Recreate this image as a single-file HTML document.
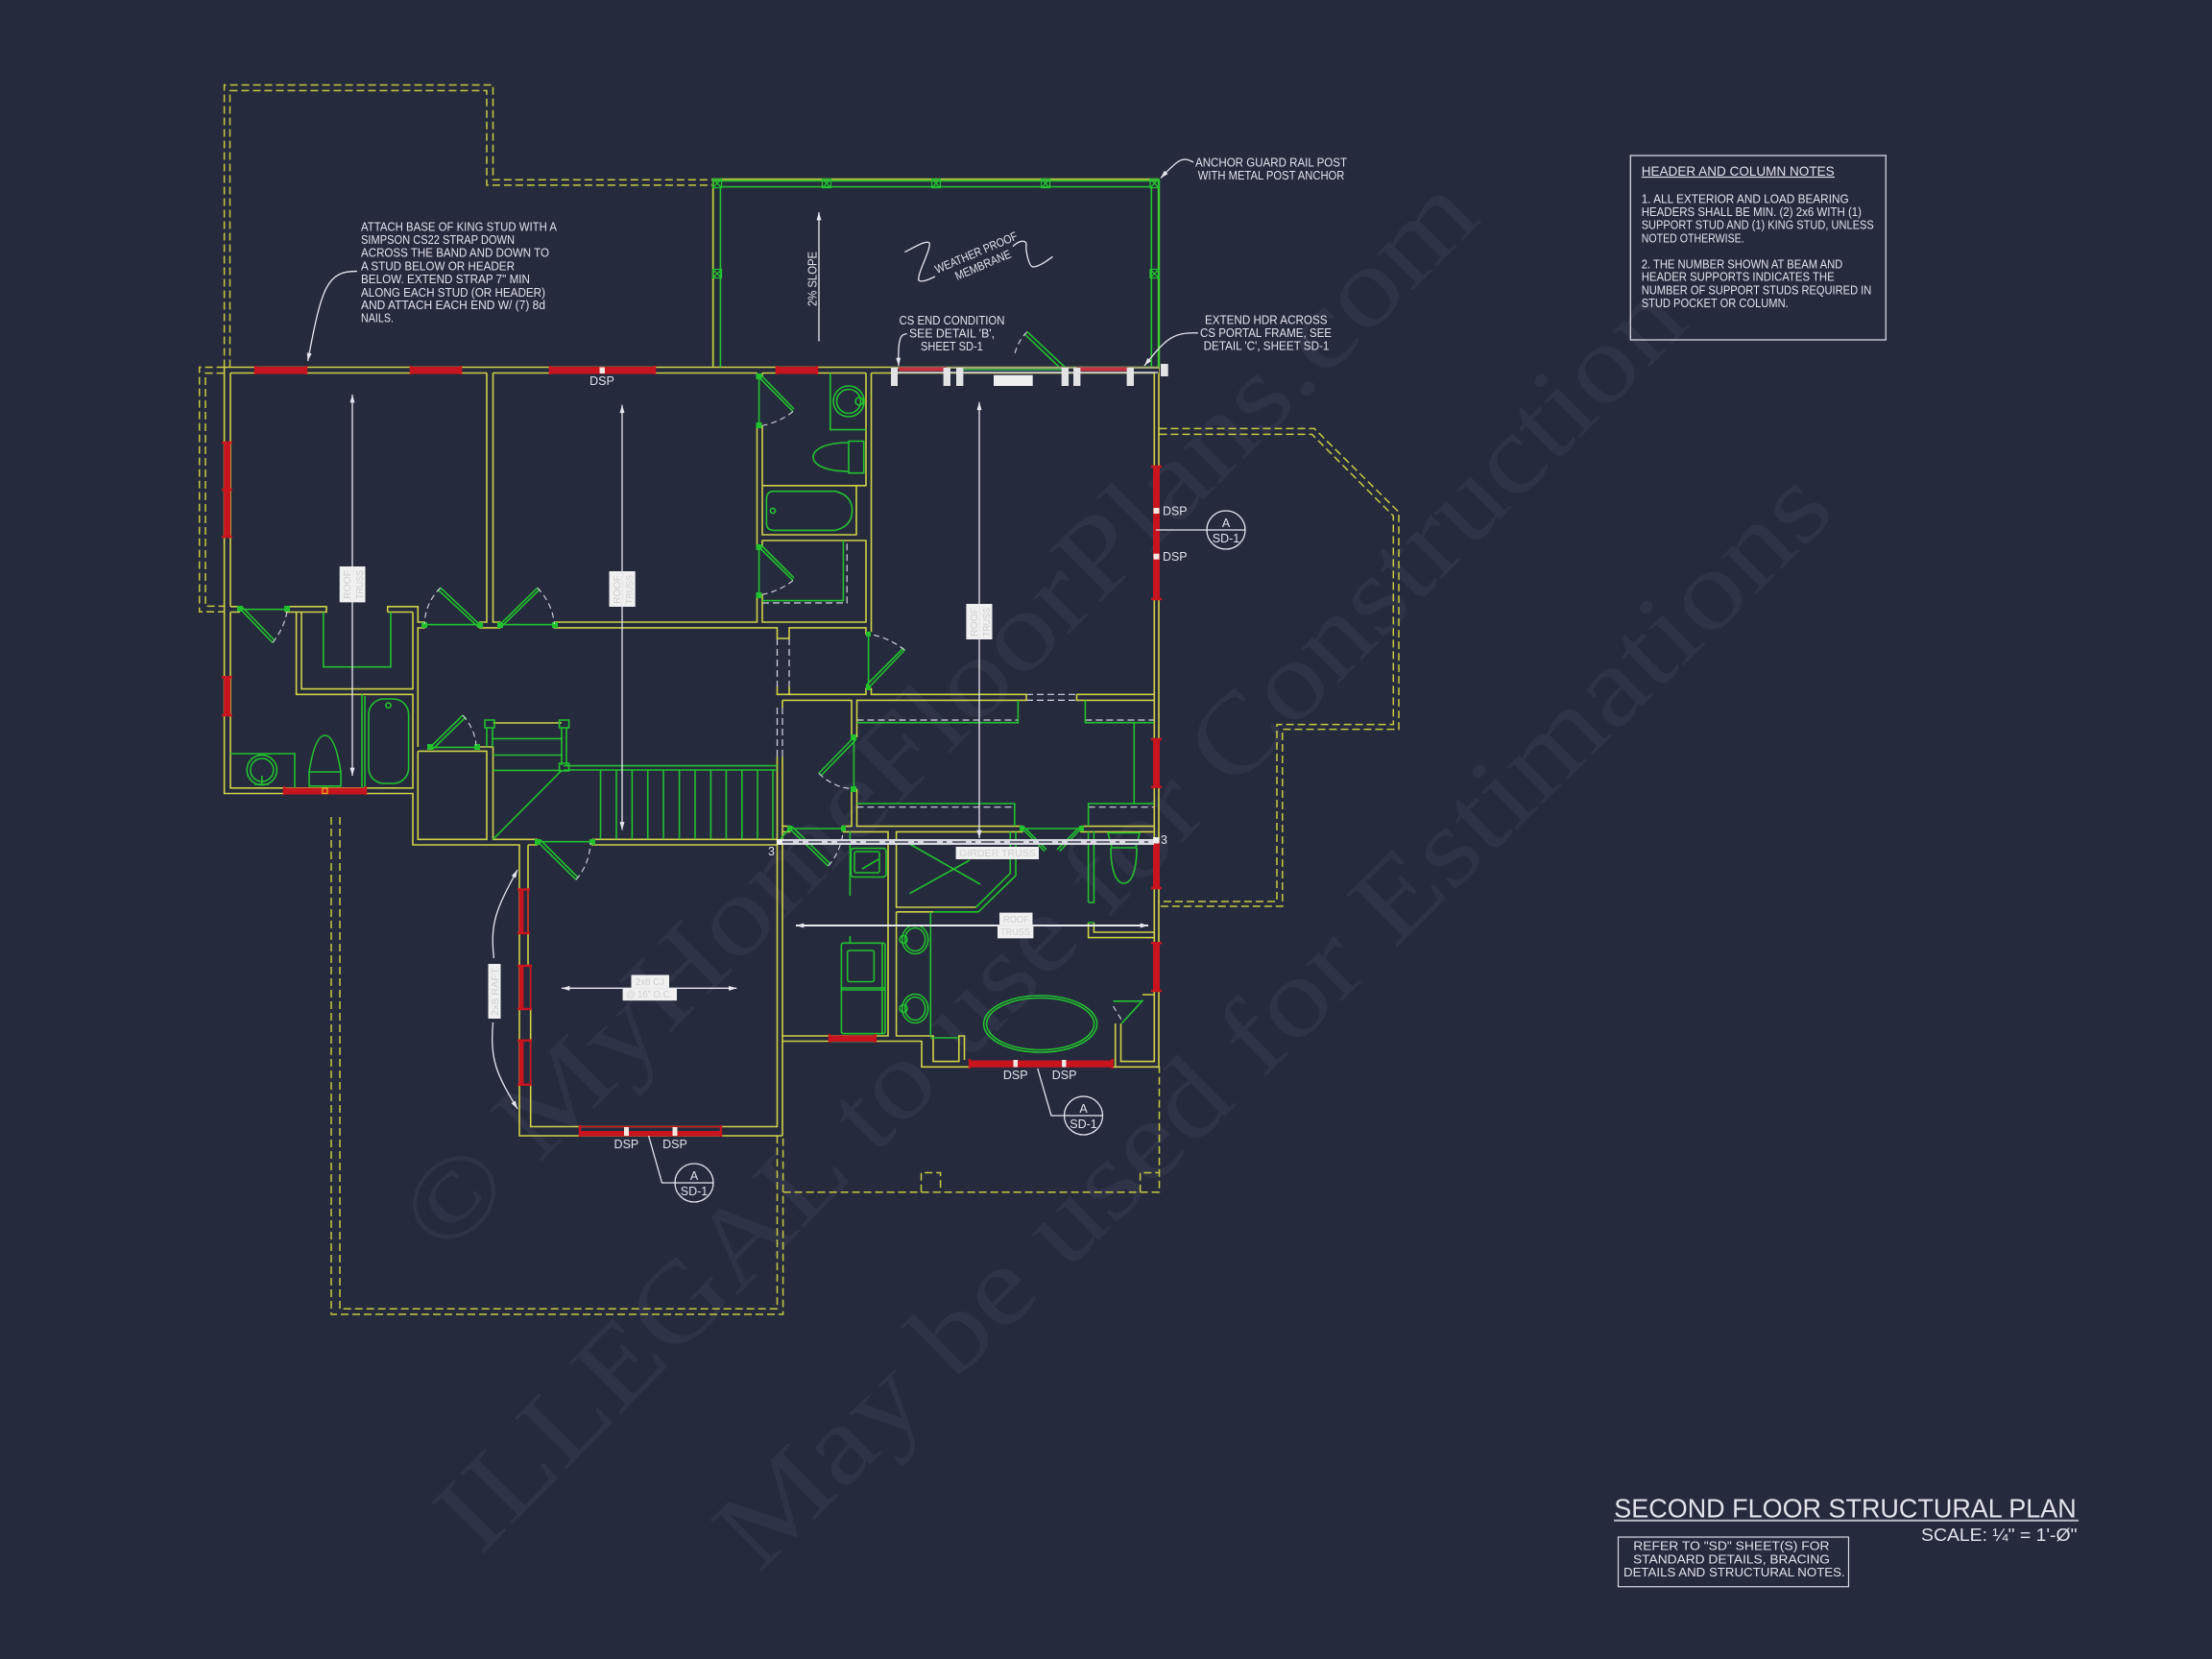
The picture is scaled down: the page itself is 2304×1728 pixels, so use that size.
<!DOCTYPE html>
<html><head><meta charset="utf-8"><title>Second Floor Structural Plan</title>
<style>
html,body{margin:0;padding:0;background:#252a3d}
svg{display:block}
.w{font-family:"Liberation Serif",serif;font-size:116px;fill:#2e3347}
.t{font-family:"Liberation Sans",sans-serif;font-size:12.5px;fill:#e2e3ea}
.lt{font-family:"Liberation Sans",sans-serif;font-size:10px;fill:#cfcfcf}
</style></head>
<body>
<svg width="2304" height="1728" viewBox="0 0 2304 1728" xmlns="http://www.w3.org/2000/svg">
<defs>
<marker id="a" viewBox="0 0 10 6" refX="10" refY="3" markerWidth="9" markerHeight="5" orient="auto-start-reverse" markerUnits="userSpaceOnUse"><path d="M0 0L10 3L0 6Z" fill="#e6e6ee"/></marker>
</defs>
<rect width="2304" height="1728" fill="#252a3d"/>

<!-- watermark -->
<text class="w" transform="translate(463,1311) rotate(-45)" textLength="1530" lengthAdjust="spacingAndGlyphs">© MyHomeFloorPlans.com</text>
<text class="w" transform="translate(500,1622) rotate(-45.5)" textLength="1800" lengthAdjust="spacingAndGlyphs">ILLEGAL to use for Construction</text>
<text class="w" transform="translate(790,1640) rotate(-44.5)" textLength="1576" lengthAdjust="spacingAndGlyphs">May be used for Estimations</text>

<!-- dashed outlines -->
<g fill="none" stroke="#c9c93f" stroke-width="1.5" stroke-dasharray="8 4">
<path d="M233.6 382.5V88.5H513.5V187.3H743"/>
<path d="M239.5 382.5V94.4H507V192.9H743"/>
<path d="M233.6 382.5H207.7V637.3H233.6"/>
<path d="M233.6 388.6H214V631.4H233.6"/>
<path d="M1207.5 446.4H1369L1457 533.4V759.6H1335.8V944H1207.5"/>
<path d="M1207.5 452.4H1366.5L1451.3 537.4V754.6H1330V939H1207.5"/>
<path d="M345 851V1369H815.6V1183"/>
<path d="M354 851V1363.3H809.5V1183"/>
<path d="M815.6 1241.8H1207.5V1111"/>
<path d="M959.5 1241.8V1221.5H979.6V1241.8M1187.6 1241.8V1221.5H1207.5"/>
</g>
<g fill="none" stroke="#d7d8e2" stroke-width="1.2" stroke-dasharray="7 4">
<path d="M809.5 665V715M822 665V715M809.5 737V788M815 737V788M1069 723.3H1121.5M1069 729.4H1121.5"/>
<path d="M794 628H882.2V563"/>
<path d="M892.5 750H1060M1130.4 750H1202M892.5 840.7H1056.8M1133.6 840.7H1202"/>
</g>

<!-- yellow walls -->
<g fill="none" stroke="#d2d247" stroke-width="1.6">
<path d="M233.6 382.5H1207V1111.3H1158M240 388.5H507M513.5 388.5H788.5M794 388.5H902M907.5 388.5H1202.3V1105.6H1167.5V1066"/>
<path d="M233.6 382.5V826.5H430V880H541V1183H815M240 388.5V631.8M240 637.5V820.8H430V723.3H308.6V637.5"/>
<path d="M240 631.8H250M240 637.5H250M297.6 637.5V631.8H340V637.5H297.6M314 637.5V717.6H430V637.5M403.7 637.5V631.8H435.3V648H442V654H435.3V778M403.7 637.5H430"/>
<path d="M507 388.5V648H499.7V653.9H520.7V648H513.5V388.5M577.5 648H788.5V619.6M577.5 648V653.9H809.5V665H822V653.9H902V661M794 619.6V648H902V563H794V570M794 393V388.5M788.5 393V388.5M788.5 443.7V570M794 443.7V557H892V505.8H902V388.5M794 505.8H892M907.5 388.5V658M907.5 716.5V723.3H1069V729.4H892.5V768M809.5 715V723.3H822M822 715V723.3H902V716.5M815 729.4H887V768M815 729.4V737M1121.5 723.3H1202M1121.5 723.3V729.4H1202"/>
<path d="M435.3 782.4V874.3H507V782.4H435.3M496.7 778H513.5V874.3H560M550 880H560M616.7 874.3H809.5M616.7 874.3V880H809.5M513.5 753H585M809.5 788V1173.5H552.7V1006M550 880V1006M815 788V1183M815 865V1079H925V866.4H878M815 866.4H822.4V860.6H815M892.5 821.6V860.6H1064.8V866.4H933.6V945H1016.6M887 821.6V860.6H878V866.4M1126 860.6H1202M1126 860.6V866.4H1202"/>
<path d="M933.6 949.8V1079H972V1105.6H998.8V1079H1004.5V1104M933.6 949.8H972M815 1084.5H960V1111.3H1010M1133.6 961V976.6H1202M1139.4 961V971H1202M1161.7 1111V1066M1190 1036H1202"/>
</g>

<!-- balcony rail -->
<path d="M742.7 382.5V186.7H1207" fill="none" stroke="#b9d13a" stroke-width="1.8"/>
<path d="M1207 186.7V382.5" fill="none" stroke="#3ccc30" stroke-width="2.4"/>
<path d="M750.4 382.5V194.6H1199.3V382.5M744 188.5H1205" fill="none" stroke="#22c22e" stroke-width="1.6"/>

<!-- green fixtures, doors -->
<g fill="none" stroke="#22c22e" stroke-width="1.6">
<g stroke-width="1.3">
<path d="M742.5 186.5h9v9h-9zM742.5 186.5l9 9M751.5 186.5l-9 9M856.5 186.5h9v9h-9zM856.5 186.5l9 9M865.5 186.5l-9 9M970.5 186.5h9v9h-9zM970.5 186.5l9 9M979.5 186.5l-9 9M1084.5 186.5h9v9h-9zM1084.5 186.5l9 9M1093.5 186.5l-9 9M1198 186.5h9v9h-9zM1198 186.5l9 9M1207 186.5l-9 9M742.5 280.5h9v9h-9zM742.5 280.5l9 9M751.5 280.5l-9 9M1198 280.5h9v9h-9zM1198 280.5l9 9M1207 280.5l-9 9"/>
</g>
<!-- upper bath -->
<path d="M864.8 388.5V447.6H902"/>
<circle cx="884" cy="418" r="16"/><circle cx="884" cy="418" r="12.5"/><circle cx="895" cy="418" r="4"/>
<path d="M884 459.5H899.7V492.7H884ZM884 461C860 461 847 468 847 476S860 491 884 491"/>
<path d="M798.4 520Q798.4 511.7 806 511.7H870Q887.6 516 887.6 532T870 552.4H806Q798.4 552.4 798.4 545Z"/>
<circle cx="805" cy="532" r="2.6"/>
<path d="M878.4 563V625.6H794"/>
<path d="M790.6 393V443.7M790.6 570V619.6M790.6 393L826 428.6M793 391L827 426M790.6 570L826 604.6M793 568L827 602"/>
<path d="M904.6 661V716.5M904.6 716.5L942.4 677M902 714L941 675"/>
<!-- lower-left bath -->
<path d="M250.5 634.7H299M250.5 634.7L284 669.4M253 633L286 667"/>
<path d="M336.8 637.5V694.7H407V637.5"/>
<rect x="384" y="728" width="41.6" height="88" rx="16"/><path d="M377 723.3V820.8M380 725V820"/><circle cx="404.5" cy="734.7" r="2.6"/>
<path d="M322 804H355V818.8H322ZM322 804C325 785 330 766 338.5 766S352 785 355 804"/>
<circle cx="272.8" cy="802" r="15.6"/><circle cx="272.8" cy="802" r="12"/><path d="M272.8 808V818M265 817H280"/>
<path d="M239.6 785H307V821"/>
<!-- doors -->
<path d="M442 650.6H499.7M499.7 650.6L458.8 612.2M497 652L456 614M577.5 650.6H520.7M520.7 650.6L559.8 612.2M523 652L562 614"/>
<path d="M448 778.4H496.7M448 778.4L482 745M451 780L485 747"/>
<path d="M560 876.7H616.7M560 876.7L600 916.3M563 875L602 914"/>
<path d="M813 874L822 863M822.4 863H878M822.4 863L862.6 902M825 861L865 900"/>
<path d="M1064.8 863H1126M1064.8 863L1088 886.7M1067 862L1090 885M1126 863L1103.7 886.7M1124 862L1101 885"/>
<path d="M889.4 768V821.6M889.4 768L852.8 805.5M892 770L855 808"/>
<path d="M1069.9 345.6L1109.6 382.8M1066.9 347.6L1106 385"/>
<!-- stairs -->
<path d="M505 750h10v8h-10zM582.6 750h10v8h-10zM582.6 795h10v8h-10z"/>
<path d="M507 758V778M513 758V778M585 758V797M590 758V797M513.5 769.4H585M513.5 786.5H585M513.5 802.4H585M587 797.6H809.5M587 802H809.5M585 802.4L513.5 874.3"/>
<path d="M625.5 802V874M642 802V874M658.4 802V874M674.7 802V874M691 802V874M707.6 802V874M724 802V874M740.4 802V874M756.4 802V874M772.8 802V874M789 802V874M805 802V874"/>
<!-- master shelves -->
<path d="M892.5 752.7H1060.4V729.4M1130.4 729.4V752.7H1202M1181.3 752.7V837M892.5 837H1056.8V860.6M1133.6 860.6V837H1202"/>
<!-- laundry, shower, vanity -->
<path d="M885.4 866V933M885.4 975V982"/>
<rect x="886.3" y="883.6" width="36.7" height="29.9" rx="3"/><rect x="890" y="887" width="26" height="22" rx="2"/><path d="M898 905L915 895"/>
<rect x="876.4" y="982.3" width="45.6" height="94.3" rx="2"/><path d="M876.4 1029H922M919 982V1076M876.4 1031H922"/>
<rect x="882.7" y="990" width="27.7" height="32.5" rx="2"/>
<path d="M1052.3 866.4V909.6L1016.6 945M1058 866.4V912L1019 949.8H972"/>
<path d="M947.4 879L1021 921M947.4 930.7L1010 896"/>
<path d="M969.3 949.8V1079M969.3 1081H998.8"/>
<ellipse cx="953.2" cy="978.5" rx="13.5" ry="15"/><ellipse cx="953.2" cy="978.5" rx="10.5" ry="12"/><circle cx="941" cy="978.5" r="4"/>
<ellipse cx="953.2" cy="1050.5" rx="13.5" ry="15"/><ellipse cx="953.2" cy="1050.5" rx="10.5" ry="12"/><circle cx="941" cy="1050.5" r="4"/>
<ellipse cx="1083.6" cy="1066.5" rx="59" ry="29.5"/><ellipse cx="1083.6" cy="1066.5" rx="56" ry="27"/>
<path d="M1154 867.5H1187L1183 883H1158ZM1157 883C1157 905 1162 920 1170.6 920S1184 905 1184 883"/>
<path d="M1133.6 866V940M1139.4 866V940H1133.6M1133 961H1140"/>
<path d="M1190.7 1041.6L1168.4 1065.8M1159.5 1042.8H1188.5"/>
</g>
<!-- green hinges -->
<g fill="#22c22e">
<rect x="787.5" y="389" width="6" height="6"/><rect x="787.5" y="440" width="6" height="6"/><rect x="787.5" y="567" width="6" height="6"/><rect x="787.5" y="617" width="6" height="6"/>
<rect x="247" y="631" width="6" height="6"/><rect x="296" y="631" width="6" height="6"/><rect x="439" y="648" width="6" height="6"/><rect x="497" y="648" width="6" height="6"/><rect x="518" y="648" width="6" height="6"/><rect x="575" y="648" width="6" height="6"/>
<rect x="445" y="775" width="6" height="6"/><rect x="494" y="775" width="6" height="6"/><rect x="557" y="874" width="6" height="6"/><rect x="614" y="874" width="6" height="6"/>
<rect x="902" y="658" width="5" height="5"/><rect x="902" y="714" width="5" height="5"/><rect x="886" y="765" width="6" height="6"/><rect x="886" y="819" width="6" height="6"/>
<rect x="820" y="860" width="5" height="6"/><rect x="876" y="860" width="5" height="6"/><rect x="1062" y="860" width="5" height="6"/><rect x="1124" y="860" width="5" height="6"/>
</g>

<!-- dashed door swings -->
<g fill="none" stroke="#d7d8e2" stroke-width="1.1" stroke-dasharray="6 4">
<path d="M826 428.6Q812 440 792 443.7M826 604.6Q812 616 792 619.6M942.4 677Q925 664 908 661"/>
<path d="M284 669.4Q296 654 299 637M458.8 612.2Q443 628 442 650M559.8 612.2Q575 628 577.5 650"/>
<path d="M482 745Q494 758 496 776M600 916.3Q614 900 615 878M862.6 902Q875 888 878 868"/>
<path d="M852.8 805.5Q868 820 887 821.6M1069.9 345.6Q1060 355 1056.3 371M1159.5 1048L1168 1062"/>
</g>

<!-- red shear walls -->
<g fill="#c8141e" stroke="#c8141e">
<path d="M266 382.5h53v6.5h-53zM428 382.5h52v6.5h-52zM573 382.5h109v6.5h-109zM809 382.5h42v6.5h-42z" stroke-width="1"/>
<path d="M266 381v9M319 381v9M428 381v9M480 381v9M573 381v9M682 381v9M809 381v9M851 381v9" stroke-width="2.5" fill="none"/>
<rect x="233.6" y="461" width="6" height="98"/><path d="M231 461h11M231 510h11M231 559h11M231 705.3h11M231 745h11" stroke-width="2.5"/>
<rect x="233.6" y="705.3" width="6" height="39.7"/>
<rect x="296" y="821" width="85" height="6"/><path d="M296 819v9M381 819v9" stroke-width="2.5"/>
<rect x="1201.5" y="486" width="6" height="138.4"/><path d="M1199 486h11M1199 624h11" stroke-width="2.5"/>
<rect x="1201.5" y="770" width="6" height="49.7"/><path d="M1199 770h11M1199 819.7h11" stroke-width="2.5"/>
<rect x="1201.5" y="877" width="6" height="48"/><path d="M1199 925h11" stroke-width="2.5"/>
<rect x="1201.5" y="982.3" width="6" height="49.7"/><path d="M1199 982.3h11M1199 1032h11" stroke-width="2.5"/>
<rect x="864" y="1079" width="47.7" height="5.5"/><path d="M864 1077v9M911.7 1077v9" stroke-width="2.5"/>
<rect x="1010" y="1105" width="148.6" height="6.3"/><path d="M1010 1103v10M1158.6 1103v10" stroke-width="2.5"/>
<rect x="541" y="926.5" width="4" height="45.5"/><path d="M550 926.5v45.5" fill="none" stroke-width="1.5"/><path d="M539 926.5h13M539 972h13" stroke-width="2.5"/>
<rect x="541" y="1006" width="4" height="45"/><path d="M552.7 1006v45" fill="none" stroke-width="1.5"/><path d="M539 1006h15M539 1051h15" stroke-width="2.5"/>
<rect x="541" y="1083.7" width="4" height="46.1"/><path d="M552.7 1083.7v46" fill="none" stroke-width="1.5"/><path d="M539 1083.7h15M539 1129.8h15" stroke-width="2.5"/>
<rect x="604" y="1178.5" width="147" height="4.5"/><path d="M604 1173.5H751" fill="none" stroke-width="1.5"/><path d="M604 1172v12M751 1172v12" stroke-width="2.5"/>
</g>
<rect x="336" y="821" width="5" height="5.5" fill="none" stroke="#e5a020" stroke-width="1.4"/>
<g fill="#f3e8e0">
<rect x="624.5" y="382.5" width="5.5" height="6.5"/>
<rect x="1201.5" y="529" width="6" height="6"/><rect x="1201.5" y="576.7" width="6" height="6"/>
<rect x="650" y="1174" width="5" height="9"/><rect x="700.5" y="1174" width="5" height="9"/>
<rect x="1055.5" y="1104" width="4.5" height="7.5"/><rect x="1106" y="1104" width="4.5" height="7.5"/>
</g>

<!-- CS portal / girder -->
<g>
<rect x="928" y="382" width="279" height="6.5" fill="#252a3d"/>
<path d="M928 383H1207" stroke="#c9cf8a" stroke-width="1.4" fill="none"/>
<rect x="936" y="382.5" width="50" height="4" fill="#c93040"/><rect x="1121.7" y="382.5" width="53" height="4" fill="#c93040"/>
<path d="M996 385H1106" stroke="#3fc24a" stroke-width="1.4" fill="none"/>
<path d="M928 388H1206" stroke="#d8d8e0" stroke-width="1.5" fill="none"/>
<g fill="#e3e3e6">
<rect x="928" y="383" width="7" height="19"/><rect x="982.6" y="383" width="7.4" height="19"/><rect x="996" y="383" width="7.4" height="19"/><rect x="1105.7" y="383" width="7.4" height="19"/><rect x="1118" y="383" width="7.4" height="19"/><rect x="1173.6" y="383" width="7.4" height="19"/><rect x="1209" y="379" width="7.7" height="13"/>
</g>
<rect x="1035" y="390.7" width="40.7" height="11.3" fill="#efefef"/>
<rect x="812" y="874" width="390" height="6" fill="#d9d9e2"/>
<path d="M812 877H1202" stroke="#252a3d" stroke-width="1.2" stroke-dasharray="14 6 4 6" fill="none"/>
<rect x="809" y="874" width="6" height="6" fill="#eee"/><rect x="1201" y="872" width="6.5" height="6.5" fill="#eee"/>
</g>

<!-- arrows and leaders -->
<g fill="none" stroke="#e8e8ef" stroke-width="1.3">
<path d="M367 808V411" marker-start="url(#a)" marker-end="url(#a)"/><path d="M648 864.5V421.8" marker-start="url(#a)" marker-end="url(#a)"/>
<path d="M1020 873V418.8" marker-start="url(#a)" marker-end="url(#a)"/>
<path d="M853 355.5V221" marker-end="url(#a)"/>
<path d="M585 1029.4H767.4" marker-start="url(#a)" marker-end="url(#a)"/>
<path d="M829 964H1196" stroke-width="2" marker-start="url(#a)" marker-end="url(#a)"/>
<path d="M372 282.6C340 282 335 300 320.6 376" marker-end="url(#a)"/>
<path d="M514.4 998C510 960 518 945 539 906" marker-end="url(#a)"/>
<path d="M513.5 1065C510 1105 518 1120 539 1155" marker-end="url(#a)"/>
<path d="M1243 169C1232 163 1228 165 1209 185.5" marker-end="url(#a)"/>
<path d="M944.8 347.6C938 348 935 352 936 381" marker-end="url(#a)"/>
<path d="M1247.8 346.8C1222 346 1215 352 1192 381" marker-end="url(#a)"/>
<path d="M942.4 262.6C955 256 965 250 968 253C970 260 955 285 957 292C960 295 970 290 974 288"/>
<path d="M1055 256.6C1062 250 1068 250 1069 254C1068 262 1072 278 1076 278C1082 278 1090 272 1096.5 267.3"/>
</g>
<g fill="#f0f0f0">
<rect x="353.7" y="590" width="26.8" height="37.4"/><rect x="634.5" y="595" width="27.2" height="37"/><rect x="1006.4" y="629" width="27.1" height="37"/>
<rect x="508.5" y="1004" width="13" height="57"/><rect x="657.5" y="1015.5" width="39.5" height="13.9"/><rect x="648.6" y="1029.4" width="56.4" height="12.8"/>
<rect x="995.6" y="882" width="86.4" height="13"/><rect x="1041" y="950.6" width="34.5" height="13.4"/><rect x="1039" y="964" width="37.4" height="13.4"/>
</g>
<path d="M648 595V632M1020 629V666M585 1029.4H767M829 964H1196" stroke="#e8e8ef" stroke-width="1.3" fill="none"/>
<g class="lt">
<text transform="translate(365,624) rotate(-90)" textLength="30" lengthAdjust="spacingAndGlyphs">ROOF</text>
<text transform="translate(378,624) rotate(-90)" textLength="30" lengthAdjust="spacingAndGlyphs">TRUSS</text>
<text transform="translate(646,629) rotate(-90)" textLength="30" lengthAdjust="spacingAndGlyphs">ROOF</text>
<text transform="translate(659,629) rotate(-90)" textLength="30" lengthAdjust="spacingAndGlyphs">TRUSS</text>
<text transform="translate(1018,663) rotate(-90)" textLength="30" lengthAdjust="spacingAndGlyphs">ROOF</text>
<text transform="translate(1031,663) rotate(-90)" textLength="30" lengthAdjust="spacingAndGlyphs">TRUSS</text>
<text transform="translate(519,1058) rotate(-90)" textLength="50" lengthAdjust="spacingAndGlyphs">2x8 RAFT</text>
<text x="662" y="1026" textLength="30" lengthAdjust="spacingAndGlyphs">2x8 CJ</text>
<text x="652" y="1039" textLength="48" lengthAdjust="spacingAndGlyphs">@ 16" O.C.</text>
<text x="999" y="892" textLength="80" lengthAdjust="spacingAndGlyphs">GIRDER TRUSS</text>
<text x="1045" y="961" textLength="27" lengthAdjust="spacingAndGlyphs">ROOF</text>
<text x="1042" y="974" textLength="31" lengthAdjust="spacingAndGlyphs">TRUSS</text>
</g>

<!-- section markers -->
<g fill="none" stroke="#e6e6ee" stroke-width="1.3">
<circle cx="723" cy="1232" r="20"/><path d="M675.6 1183L689.5 1232H743"/>
<circle cx="1128.5" cy="1162" r="20"/><path d="M1080.8 1113L1095 1162H1149"/>
<circle cx="1277" cy="552" r="20"/><path d="M1204 552H1297"/>
</g>
<g class="t" text-anchor="middle">
<text x="723" y="1229">A</text><text x="723" y="1245">SD-1</text>
<text x="1128.5" y="1159">A</text><text x="1128.5" y="1175">SD-1</text>
<text x="1277" y="549">A</text><text x="1277" y="565">SD-1</text>
<text x="627" y="401">DSP</text>
<text x="652.4" y="1196">DSP</text><text x="703" y="1196">DSP</text>
<text x="1057.7" y="1124">DSP</text><text x="1108.6" y="1124">DSP</text>
</g>
<g class="t">
<text x="1211" y="536.5" textLength="25.5" lengthAdjust="spacingAndGlyphs">DSP</text>
<text x="1211" y="584" textLength="25.5" lengthAdjust="spacingAndGlyphs">DSP</text>
<text x="800" y="891">3</text><text x="1209" y="879">3</text>

<!-- notes -->
<text x="376" y="240.5" textLength="204" lengthAdjust="spacingAndGlyphs">ATTACH BASE OF KING STUD WITH A</text>
<text x="376" y="254.2" textLength="160" lengthAdjust="spacingAndGlyphs">SIMPSON CS22 STRAP DOWN</text>
<text x="376" y="267.6" textLength="196" lengthAdjust="spacingAndGlyphs">ACROSS THE BAND AND DOWN TO</text>
<text x="376" y="281.4" textLength="160" lengthAdjust="spacingAndGlyphs">A STUD BELOW OR HEADER</text>
<text x="376" y="294.9" textLength="176" lengthAdjust="spacingAndGlyphs">BELOW.  EXTEND STRAP 7" MIN</text>
<text x="376" y="308.8" textLength="192" lengthAdjust="spacingAndGlyphs">ALONG EACH STUD (OR HEADER)</text>
<text x="376" y="322.2" textLength="192" lengthAdjust="spacingAndGlyphs">AND ATTACH EACH END W/ (7) 8d</text>
<text x="376" y="335.7" textLength="34" lengthAdjust="spacingAndGlyphs">NAILS.</text>

<text x="1245" y="173.3" textLength="158" lengthAdjust="spacingAndGlyphs">ANCHOR GUARD RAIL POST</text>
<text x="1247.8" y="187.1" textLength="152.6" lengthAdjust="spacingAndGlyphs">WITH METAL POST ANCHOR</text>
<text x="936.5" y="338.2" textLength="110" lengthAdjust="spacingAndGlyphs">CS END CONDITION</text>
<text x="947" y="351.4" textLength="89" lengthAdjust="spacingAndGlyphs">SEE DETAIL 'B',</text>
<text x="959" y="365" textLength="64.8" lengthAdjust="spacingAndGlyphs">SHEET SD-1</text>
<text x="1255" y="337.4" textLength="127.5" lengthAdjust="spacingAndGlyphs">EXTEND HDR ACROSS</text>
<text x="1250" y="351.2" textLength="137" lengthAdjust="spacingAndGlyphs">CS PORTAL FRAME, SEE</text>
<text x="1253.6" y="364.4" textLength="130.8" lengthAdjust="spacingAndGlyphs">DETAIL 'C', SHEET SD-1</text>
<text transform="translate(850.5,319) rotate(-90)" textLength="57" lengthAdjust="spacingAndGlyphs">2% SLOPE</text>
<text transform="translate(976,285) rotate(-23)" textLength="92" lengthAdjust="spacingAndGlyphs">WEATHER PROOF</text>
<text transform="translate(997,292) rotate(-23)" textLength="62" lengthAdjust="spacingAndGlyphs">MEMBRANE</text>
</g>

<!-- header box -->
<rect x="1698.3" y="162" width="266" height="192" fill="none" stroke="#d8d9e2" stroke-width="1.3"/>
<path d="M1709.7 184.5H1911" stroke="#d8d9e2" stroke-width="1.3"/>
<g class="t">
<text x="1709.7" y="183" style="font-size:14px" textLength="201" lengthAdjust="spacingAndGlyphs">HEADER AND COLUMN NOTES</text>
<text x="1709.7" y="211.7" textLength="216" lengthAdjust="spacingAndGlyphs">1. ALL EXTERIOR AND LOAD BEARING</text>
<text x="1709.7" y="225.1" textLength="229.3" lengthAdjust="spacingAndGlyphs">HEADERS SHALL BE MIN. (2) 2x6 WITH (1)</text>
<text x="1709.7" y="238.7" textLength="242" lengthAdjust="spacingAndGlyphs">SUPPORT STUD AND (1) KING STUD, UNLESS</text>
<text x="1709.7" y="252.7" textLength="107" lengthAdjust="spacingAndGlyphs">NOTED OTHERWISE.</text>
<text x="1709.7" y="279.4" textLength="209.6" lengthAdjust="spacingAndGlyphs">2. THE NUMBER SHOWN AT BEAM AND</text>
<text x="1709.7" y="292.7" textLength="201" lengthAdjust="spacingAndGlyphs">HEADER SUPPORTS INDICATES THE</text>
<text x="1709.7" y="306.7" textLength="239.6" lengthAdjust="spacingAndGlyphs">NUMBER OF SUPPORT STUDS REQUIRED IN</text>
<text x="1709.7" y="320.1" textLength="153" lengthAdjust="spacingAndGlyphs">STUD POCKET OR COLUMN.</text>
</g>

<!-- title -->
<path d="M1681 1583.7H2165" stroke="#b9bac6" stroke-width="2"/>
<rect x="1685.5" y="1601" width="240" height="51.7" fill="none" stroke="#d8d9e2" stroke-width="1.2"/>
<g class="t">
<text x="1681.3" y="1580.7" style="font-size:28px" textLength="481.4" lengthAdjust="spacingAndGlyphs">SECOND FLOOR STRUCTURAL PLAN</text>
<text x="2001" y="1605" style="font-size:18px" textLength="162.5" lengthAdjust="spacingAndGlyphs">SCALE: ¼" = 1'-Ø"</text>
<text x="1701.3" y="1614.7" textLength="204.2" lengthAdjust="spacingAndGlyphs">REFER TO "SD"  SHEET(S) FOR</text>
<text x="1701" y="1628.4" textLength="205" lengthAdjust="spacingAndGlyphs">STANDARD DETAILS, BRACING</text>
<text x="1691" y="1642.1" textLength="230.7" lengthAdjust="spacingAndGlyphs">DETAILS AND STRUCTURAL NOTES.</text>
</g>
</svg>
</body></html>
